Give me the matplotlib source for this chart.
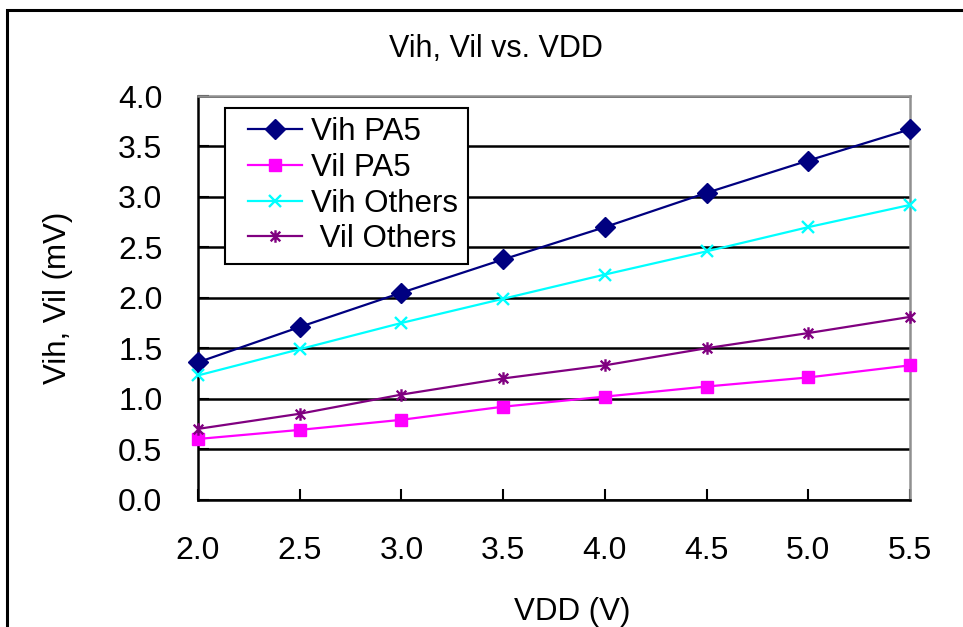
import numpy as np
import matplotlib
matplotlib.use("Agg")
import matplotlib.pyplot as plt
from matplotlib.path import Path
from matplotlib.patches import Rectangle
from matplotlib.lines import Line2D
from matplotlib.legend_handler import HandlerLine2D

vdd = [2.0, 2.5, 3.0, 3.5, 4.0, 4.5, 5.0, 5.5]
vih_pa5 = [1.36, 1.71, 2.05, 2.38, 2.70, 3.04, 3.36, 3.67]
vil_pa5 = [0.60, 0.69, 0.79, 0.92, 1.02, 1.12, 1.21, 1.33]
vih_others = [1.23, 1.49, 1.75, 1.99, 2.23, 2.46, 2.70, 2.92]
vil_others = [0.70, 0.85, 1.04, 1.20, 1.33, 1.50, 1.65, 1.81]
labels = ["Vih PA5", "Vil PA5", "Vih Others", " Vil Others"]

plt.rcParams['font.family'] = ['Liberation Sans', 'DejaVu Sans']

# excel-style asterisk marker
star = Path([(-1, -1), (1, 1), (-1, 1), (1, -1), (0, 1.3), (0, -1.3)],
            [Path.MOVETO, Path.LINETO, Path.MOVETO, Path.LINETO, Path.MOVETO, Path.LINETO])

fig = plt.figure(figsize=(9.63, 6.27), dpi=100)
fig.patches.append(Rectangle((7 / 963, -0.1), 1.1, 1 - 10 / 627 + 0.1, transform=fig.transFigure,
                             fill=False, ec='black', lw=2.2))
ax = fig.add_axes([198 / 963, 1 - 499.5 / 627, 712 / 963, 403.5 / 627])

ax.plot(vdd, vih_pa5, color='#000080', marker='D', ms=10, lw=1.6, label=labels[0], clip_on=False, zorder=5)
ax.plot(vdd, vil_pa5, color='#FF00FF', marker='s', ms=9, lw=1.6, label=labels[1], clip_on=False, zorder=5)
ax.plot(vdd, vih_others, color='#00FFFF', marker='x', ms=8.5, mew=1.7, lw=1.6, label=labels[2], clip_on=False, zorder=5)
ax.plot(vdd, vil_others, color='#800080', marker=star, ms=9, mew=1.7, mfc='none', lw=1.6,
        label=labels[3], clip_on=False, zorder=5)

ax.set_xlim(2.0, 5.5)
ax.set_ylim(0.0, 4.0)
ax.set_xticks(np.arange(2.0, 5.51, 0.5))
ax.set_yticks(np.arange(0.0, 4.01, 0.5))
ax.xaxis.set_major_formatter(matplotlib.ticker.FormatStrFormatter('%.1f'))
ax.yaxis.set_major_formatter(matplotlib.ticker.FormatStrFormatter('%.1f'))
ax.tick_params(axis='both', direction='in', length=8, width=1.5, labelsize=23)
ax.tick_params(axis='x', pad=26)
ax.tick_params(axis='y', pad=57.5)
for lbl in ax.get_yticklabels():
    lbl.set_horizontalalignment('left')
ax.grid(axis='y', color='black', lw=1.8)
ax.set_axisbelow(True)

ax.spines['left'].set_linewidth(1.8)
ax.spines['bottom'].set_linewidth(1.8)
ax.spines['top'].set_color('#909090')
ax.spines['right'].set_color('#909090')
ax.spines['top'].set_linewidth(1.8)
ax.spines['right'].set_linewidth(1.8)

ax.set_xlabel("VDD (V)", fontsize=22.5, va='top')
ax.xaxis.set_label_coords(0.525, -0.2416)
ax.set_ylabel("Vih, Vil (mV)", fontsize=22.5)
ax.yaxis.set_label_coords(-0.176, 0.5)
fig.text(0.515, 1 - 49 / 627, "Vih, Vil vs. VDD", fontsize=22, ha='center', va='center')

leg = ax.legend(loc='upper left', bbox_to_anchor=(27 / 712, 1 - 12 / 403.5), fontsize=22.5,
                frameon=True, fancybox=False, edgecolor='black', framealpha=1,
                handlelength=2.16, handletextpad=0.3, borderpad=0.3, labelspacing=0.18,
                borderaxespad=0, handler_map={Line2D: HandlerLine2D(xpad=0.42)})
leg.get_frame().set_linewidth(1.5)

fig.savefig("out.png", dpi=100)
